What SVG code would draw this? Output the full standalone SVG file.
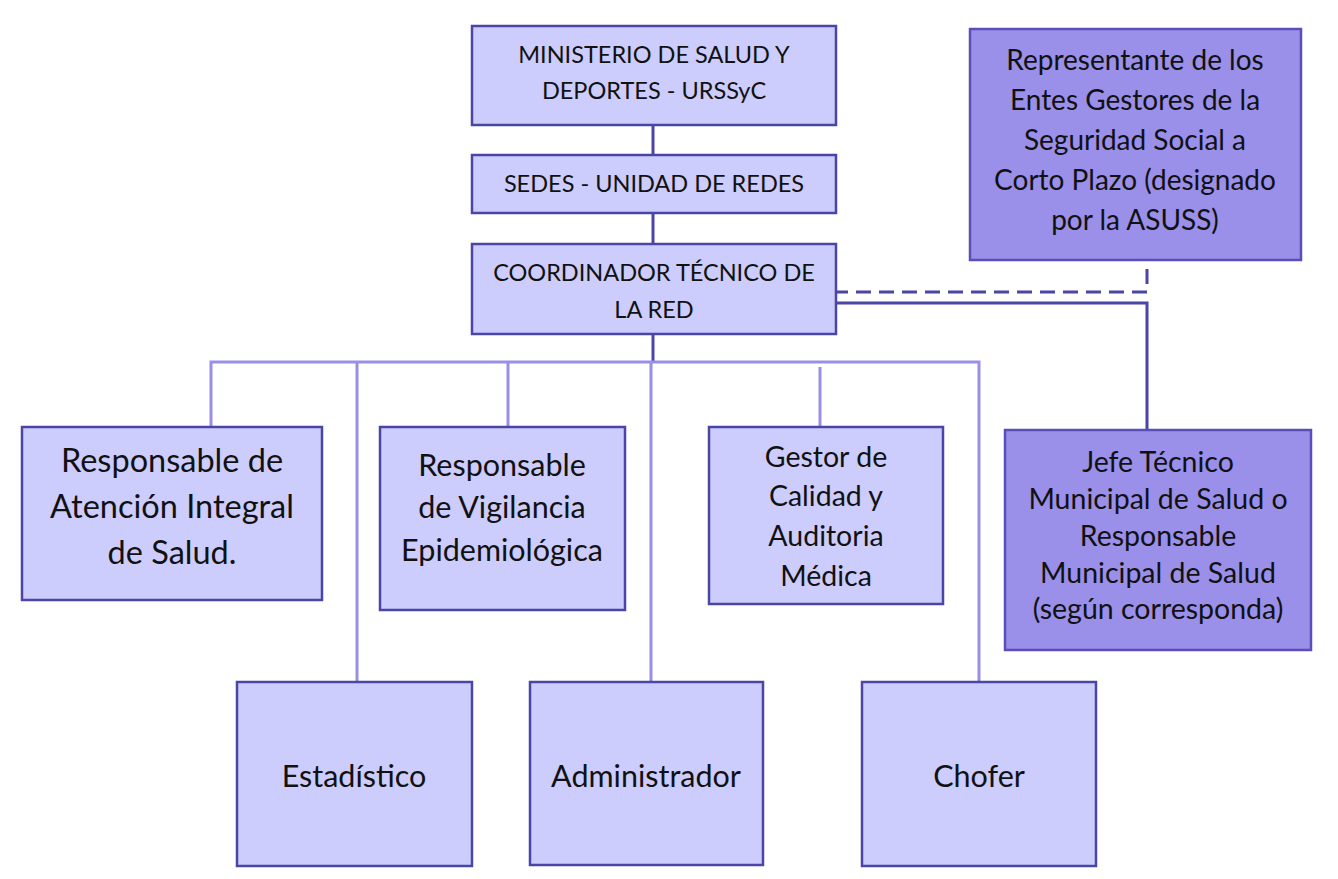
<svg xmlns="http://www.w3.org/2000/svg" width="1338" height="879" viewBox="0 0 1338 879">
<style>
.lt{fill:#ccccfd;stroke:#4b45a6;stroke-width:2.5}
.dk{fill:#9a8fe9;stroke:#5a4fb8;stroke-width:2.5}
text{font-family:Lato,"Open Sans","Liberation Sans",sans-serif;fill:#111;text-anchor:middle}
.c1{stroke:#4b45a6;stroke-width:3;fill:none}
.c2{stroke:#9a8fe6;stroke-width:3;fill:none}
</style>
<rect width="1338" height="879" fill="#fff"/>
<g id="connectors">
<line class="c1" x1="653" y1="125" x2="653" y2="155"/>
<line class="c1" x1="653" y1="213" x2="653" y2="244"/>
<line class="c1" x1="653" y1="334" x2="653" y2="362"/>
<polyline class="c2" points="211,427 211,362 979,362 979,682"/>
<line class="c2" x1="357" y1="362" x2="357" y2="682"/>
<line class="c2" x1="508" y1="362" x2="508" y2="427"/>
<line class="c2" x1="651" y1="362" x2="651" y2="682"/>
<line class="c2" x1="820" y1="367" x2="820" y2="427"/>
<polyline class="c1" points="833,292 1147,292 1147,260" stroke-dasharray="15,8" stroke-width="3.5"/>
<polyline class="c1" points="833,303 1147,303 1147,430"/>
</g>
<g id="ministerio">
<rect class="lt" x="472" y="26" width="364" height="99"/>
<text font-size="23.5" x="654" y="63">MINISTERIO DE SALUD Y</text>
<text font-size="23.5" x="654" y="99">DEPORTES - URSSyC</text>
</g>
<g id="sedes">
<rect class="lt" x="472" y="155" width="364" height="58"/>
<text font-size="23.5" x="654" y="192">SEDES - UNIDAD DE REDES</text>
</g>
<g id="coordinador">
<rect class="lt" x="472" y="244" width="364" height="90"/>
<text font-size="23.5" x="654" y="281">COORDINADOR TÉCNICO DE</text>
<text font-size="23.5" x="654" y="318">LA RED</text>
</g>
<g id="representante">
<rect class="dk" x="970" y="29" width="331" height="231"/>
<text font-size="28" x="1135" y="70">Representante de los</text>
<text font-size="28" x="1135" y="110">Entes Gestores de la</text>
<text font-size="28" x="1135" y="150">Seguridad Social a</text>
<text font-size="28" x="1135" y="190">Corto Plazo (designado</text>
<text font-size="28" x="1135" y="230">por la ASUSS)</text>
</g>
<g id="atencion">
<rect class="lt" x="22" y="427" width="300" height="173"/>
<text font-size="32.5" x="172" y="472">Responsable de</text>
<text font-size="32.5" x="172" y="518">Atención Integral</text>
<text font-size="32.5" x="172" y="564">de Salud.</text>
</g>
<g id="vigilancia">
<rect class="lt" x="380" y="427" width="245" height="183"/>
<text font-size="30.5" x="502" y="476">Responsable</text>
<text font-size="30.5" x="502" y="518">de Vigilancia</text>
<text font-size="30.5" x="502" y="561">Epidemiológica</text>
</g>
<g id="gestor">
<rect class="lt" x="709" y="427" width="234" height="177"/>
<text font-size="28.5" x="826" y="467">Gestor de</text>
<text font-size="28.5" x="826" y="506">Calidad y</text>
<text font-size="28.5" x="826" y="546">Auditoria</text>
<text font-size="28.5" x="826" y="586">Médica</text>
</g>
<g id="jefe">
<rect class="dk" x="1005" y="430" width="306" height="220"/>
<text font-size="28.5" x="1158" y="472">Jefe Técnico</text>
<text font-size="28.5" x="1158" y="509">Municipal de Salud o</text>
<text font-size="28.5" x="1158" y="546">Responsable</text>
<text font-size="28.5" x="1158" y="583">Municipal de Salud</text>
<text font-size="28.5" x="1158" y="619">(según corresponda)</text>
</g>
<g id="estadistico">
<rect class="lt" x="237" y="682" width="235" height="184"/>
<text font-size="30.5" x="354" y="787">Estadístico</text>
</g>
<g id="administrador">
<rect class="lt" x="530" y="682" width="233" height="183"/>
<text font-size="30.5" x="646" y="787">Administrador</text>
</g>
<g id="chofer">
<rect class="lt" x="862" y="682" width="234" height="184"/>
<text font-size="30.5" x="979" y="787">Chofer</text>
</g>
</svg>
